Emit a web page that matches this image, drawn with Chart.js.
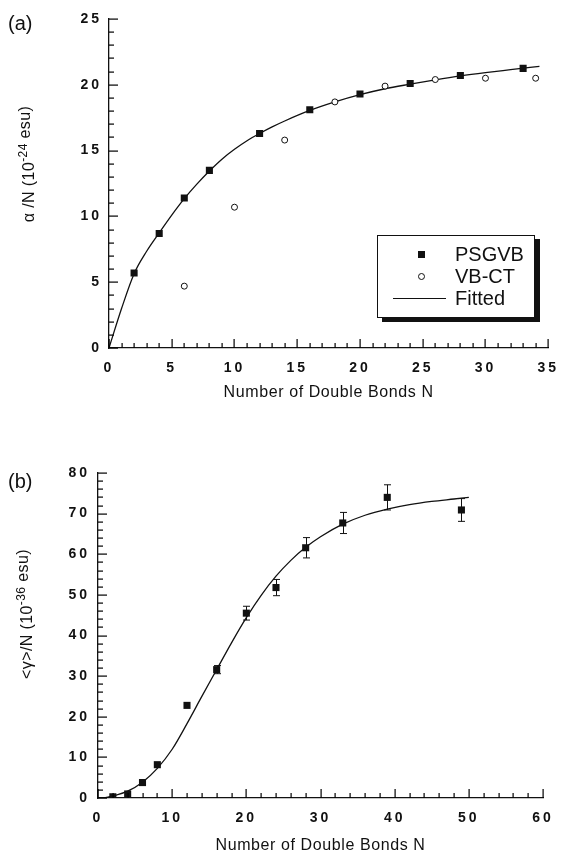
<!DOCTYPE html>
<html>
<head>
<meta charset="utf-8">
<script src="https://cdn.jsdelivr.net/npm/chart.js@4"></script>
<style>
  html, body { margin: 0; padding: 0; background: #fff; width: 568px; height: 851px; overflow: hidden; }
  #wrap { position: relative; width: 568px; height: 851px; }
  canvas { position: absolute; left: 0; }
  #c1 { top: 0; }
  #c2 { top: 440px; }
  .panel { position: absolute; left: 8px; font: 20px/24px "Liberation Sans", Arial, sans-serif; color: #111; }
  #legend { position: absolute; left: 377px; top: 235px; width: 156px; height: 81px; border: 1.5px solid #111;
            box-shadow: 5px 4px 0 #111; background: #fff; font: 20px/22px "Liberation Sans", Arial, sans-serif; color: #111; }
  #legend .txt { position: absolute; left: 77px; }
  #legend .sq { position: absolute; left: 40px; top: 15px; width: 7px; height: 7px; background: #111; }
  #legend .ci { position: absolute; left: 40px; top: 37px; width: 5px; height: 5px; border: 1px solid #111; border-radius: 50%; }
  #legend .ln { position: absolute; left: 15px; top: 62px; width: 53px; height: 0; border-top: 1.3px solid #111; }
</style>
</head>
<body>
<div id="wrap">
  <canvas id="c1" width="568" height="400"></canvas>
  <canvas id="c2" width="568" height="420"></canvas>
  <div class="panel" style="top:11px">(a)</div>
  <div class="panel" style="top:469px">(b)</div>
  <div id="legend">
    <span class="sq"></span><span class="txt" style="top:7px">PSGVB</span>
    <span class="ci"></span><span class="txt" style="top:29px">VB-CT</span>
    <span class="ln"></span><span class="txt" style="top:51px">Fitted</span>
  </div>
</div>
<script>
// panel (a): polarizability per bond
const aFitN = [0, 1, 2, 3, 4, 5, 6, 7, 8, 9, 10, 11, 12, 13, 14, 16, 18, 20, 22, 24, 26, 28, 30, 32, 34.3];
const aFitVal = [0, 3.0, 5.65, 7.35, 8.75, 10.1, 11.35, 12.45, 13.45, 14.35, 15.1, 15.75, 16.3, 16.8, 17.25, 18.05, 18.7, 19.25, 19.7, 20.05, 20.38, 20.68, 20.93, 21.15, 21.4];
const aPsgvbN = [2, 4, 6, 8, 12, 16, 20, 24, 28, 33];
const aPsgvbVal = [5.7, 8.7, 11.4, 13.5, 16.3, 18.1, 19.3, 20.1, 20.7, 21.25];
const aVbctN = [6, 10, 14, 18, 22, 26, 30, 34];
const aVbctVal = [4.7, 10.7, 15.8, 18.7, 19.9, 20.4, 20.5, 20.5];
const aXTicks = [0, 5, 10, 15, 20, 25, 30, 35];
const aYTicks = [0, 5, 10, 15, 20, 25];

// panel (b): second hyperpolarizability per bond
const bFitN = [1, 2, 4, 6, 8, 10, 12, 14, 16, 18, 20, 22, 24, 26, 28, 30, 33, 36, 39, 42, 45, 48, 50];
const bFitVal = [0.1, 0.5, 1.7, 3.9, 7.3, 12.0, 18.3, 25.0, 31.6, 38.2, 44.4, 49.9, 54.6, 58.5, 61.7, 64.3, 67.4, 69.6, 71.1, 72.2, 73.0, 73.6, 74.0];
const bPsgvbN = [2, 4, 6, 8, 12, 16, 20, 24, 28, 33, 39, 49];
const bPsgvbVal = [0.3, 1.0, 3.8, 8.2, 22.8, 31.6, 45.5, 51.8, 61.6, 67.7, 74.0, 70.9];
const bPsgvbErr = [0, 0, 0, 0, 0, 1.0, 1.7, 2.0, 2.5, 2.6, 3.1, 2.8];
const bXTicks = [0, 10, 20, 30, 40, 50, 60];
const bYTicks = [0, 10, 20, 30, 40, 50, 60, 70, 80];

const xTitle = 'Number of Double Bonds N';
const aYTitle = [['α /N (10', 16, 0], ['-24', 12, 7], [' esu)', 16, 4]];
const bYTitle = [['<γ>/N (10', 16, 0], ['-36', 12, 7], [' esu)', 16, 4]];

const FONT = '"Liberation Sans", Arial, sans-serif';
const INK = '#111';

function pts(xs, ys) {
    return xs.map((x, i) => ({ x: x, y: ys[i] }));
}

function onStep(v, m) {
    return Math.abs(v / m - Math.round(v / m)) < 1e-6;
}

// inward tick marks along both axes
function drawTicks(chart, cfg) {
    const ctx = chart.ctx, xs = chart.scales.x, ys = chart.scales.y;
    const a = chart.chartArea;
    ctx.save();
    ctx.fillStyle = '#000';
    for (let v = cfg.xMin; v <= cfg.xMax + 1e-6; v += cfg.xMinor) {
        const p = Math.round(xs.getPixelForValue(v));
        const len = onStep(v, cfg.xMajor) ? 9 : 5;
        ctx.fillRect(p - 0.5, a.bottom - len, 1.2, len);
    }
    for (let v = cfg.yMin; v <= cfg.yMax + 1e-6; v += cfg.yMinor) {
        const p = Math.round(ys.getPixelForValue(v));
        const len = onStep(v, cfg.yMajor) ? 9 : 5;
        ctx.fillRect(a.left, p - 0.5, len, 1.2);
    }
    ctx.restore();
}

function drawErrors(chart, cfg) {
    if (!cfg.err) return;
    const ctx = chart.ctx, xs = chart.scales.x, ys = chart.scales.y;
    ctx.save();
    ctx.strokeStyle = INK;
    ctx.lineWidth = 1;
    ctx.beginPath();
    cfg.err.forEach((e, i) => {
        if (!e) return;
        const px = Math.round(xs.getPixelForValue(cfg.errX[i])) + 0.5;
        const top = ys.getPixelForValue(cfg.errY[i] + e);
        const bot = ys.getPixelForValue(cfg.errY[i] - e);
        ctx.moveTo(px, top); ctx.lineTo(px, bot);
        ctx.moveTo(px - 3.5, top); ctx.lineTo(px + 3.5, top);
        ctx.moveTo(px - 3.5, bot); ctx.lineTo(px + 3.5, bot);
    });
    ctx.stroke();
    ctx.restore();
}

function drawTitles(chart, cfg) {
    const ctx = chart.ctx, a = chart.chartArea;
    ctx.save();
    ctx.fillStyle = INK;
    ctx.textBaseline = 'alphabetic';
    ctx.letterSpacing = '0.6px';
    ctx.font = '16px ' + FONT;
    ctx.textAlign = 'center';
    ctx.fillText(xTitle, (a.left + a.right) / 2, cfg.xTitleY);
    // rotated y title with superscript
    ctx.letterSpacing = '0.4px';
    ctx.textAlign = 'left';
    ctx.translate(cfg.yTitleX, cfg.yTitleY);
    ctx.rotate(-Math.PI / 2);
    let total = 0;
    const w = cfg.yTitle.map(p => {
        ctx.font = p[1] + 'px ' + FONT;
        const m = ctx.measureText(p[0]).width;
        total += m;
        return m;
    });
    let x = -total / 2;
    cfg.yTitle.forEach((p, i) => {
        ctx.font = p[1] + 'px ' + FONT;
        ctx.fillText(p[0], x, -p[2]);
        x += w[i];
    });
    ctx.restore();
}

function decor(cfg) {
    return {
        id: 'decor',
        beforeDraw(chart) { chart.ctx.letterSpacing = '3px'; },
        afterDatasetsDraw(chart) {
            chart.ctx.letterSpacing = '0px';
            drawTicks(chart, cfg);
            drawErrors(chart, cfg);
            drawTitles(chart, cfg);
        }
    };
}

function axis(min, max, tickList, pad, fitSize, horizontal) {
    return {
        type: 'linear',
        min: min,
        max: max,
        afterBuildTicks: s => { s.ticks = tickList.map(v => ({ value: v })); },
        afterFit: s => {
            if (horizontal) s.height = fitSize; else s.width = fitSize;
        },
        ticks: {
            autoSkip: false,
            maxRotation: 0,
            padding: pad,
            color: INK,
            font: { family: FONT, size: 14, weight: 'bold' }
        },
        grid: { display: true, drawOnChartArea: false, drawTicks: false },
        border: { display: true, color: INK, width: 1.3 }
    };
}

function makeChart(id, datasets, scales, padding, cfg) {
    return new Chart(document.getElementById(id), {
        type: 'scatter',
        data: { datasets: datasets },
        options: {
            responsive: false,
            animation: false,
            events: [],
            layout: { padding: padding },
            plugins: { legend: { display: false }, tooltip: { enabled: false } },
            scales: scales
        },
        plugins: [decor(cfg)]
    });
}

const fitStyle = {
    showLine: true, pointRadius: 0, borderColor: INK, borderWidth: 1.3,
    cubicInterpolationMode: 'monotone', fill: false, order: 3
};
const squareStyle = {
    pointStyle: 'rect', pointRadius: 5, backgroundColor: INK, borderColor: INK, borderWidth: 0, order: 1
};

makeChart('c1', [
    Object.assign({ label: 'Fitted', data: pts(aFitN, aFitVal) }, fitStyle),
    Object.assign({ label: 'PSGVB', data: pts(aPsgvbN, aPsgvbVal) }, squareStyle),
    {
        label: 'VB-CT', data: pts(aVbctN, aVbctVal), pointStyle: 'circle', pointRadius: 3,
        backgroundColor: '#fff', borderColor: INK, borderWidth: 1, order: 2
    }
], {
    x: axis(0, 35, aXTicks, 12, 52, true),
    y: axis(0, 25, aYTicks, 7, 109, false)
}, { top: 19, right: 15, left: 0, bottom: 0 }, {
    xMin: 0, xMax: 35, xMinor: 1, xMajor: 5, yMin: 0, yMax: 25, yMinor: 1, yMajor: 5,
    xTitleY: 397, yTitle: aYTitle, yTitleX: 34, yTitleY: 164
});

makeChart('c2', [
    Object.assign({ label: 'Fitted', data: pts(bFitN, bFitVal) }, fitStyle),
    Object.assign({ label: 'PSGVB', data: pts(bPsgvbN, bPsgvbVal) }, squareStyle)
], {
    x: axis(0, 60, bXTicks, 12, 62, true),
    y: axis(0, 80, bYTicks, 8, 98, false)
}, { top: 33, right: 25, left: 0, bottom: 0 }, {
    xMin: 0, xMax: 60, xMinor: 2, xMajor: 10, yMin: 0, yMax: 80, yMinor: 2, yMajor: 10,
    xTitleY: 410, yTitle: bYTitle, yTitleX: 32, yTitleY: 174,
    err: bPsgvbErr, errX: bPsgvbN, errY: bPsgvbVal
});
</script>
</body>
</html>
